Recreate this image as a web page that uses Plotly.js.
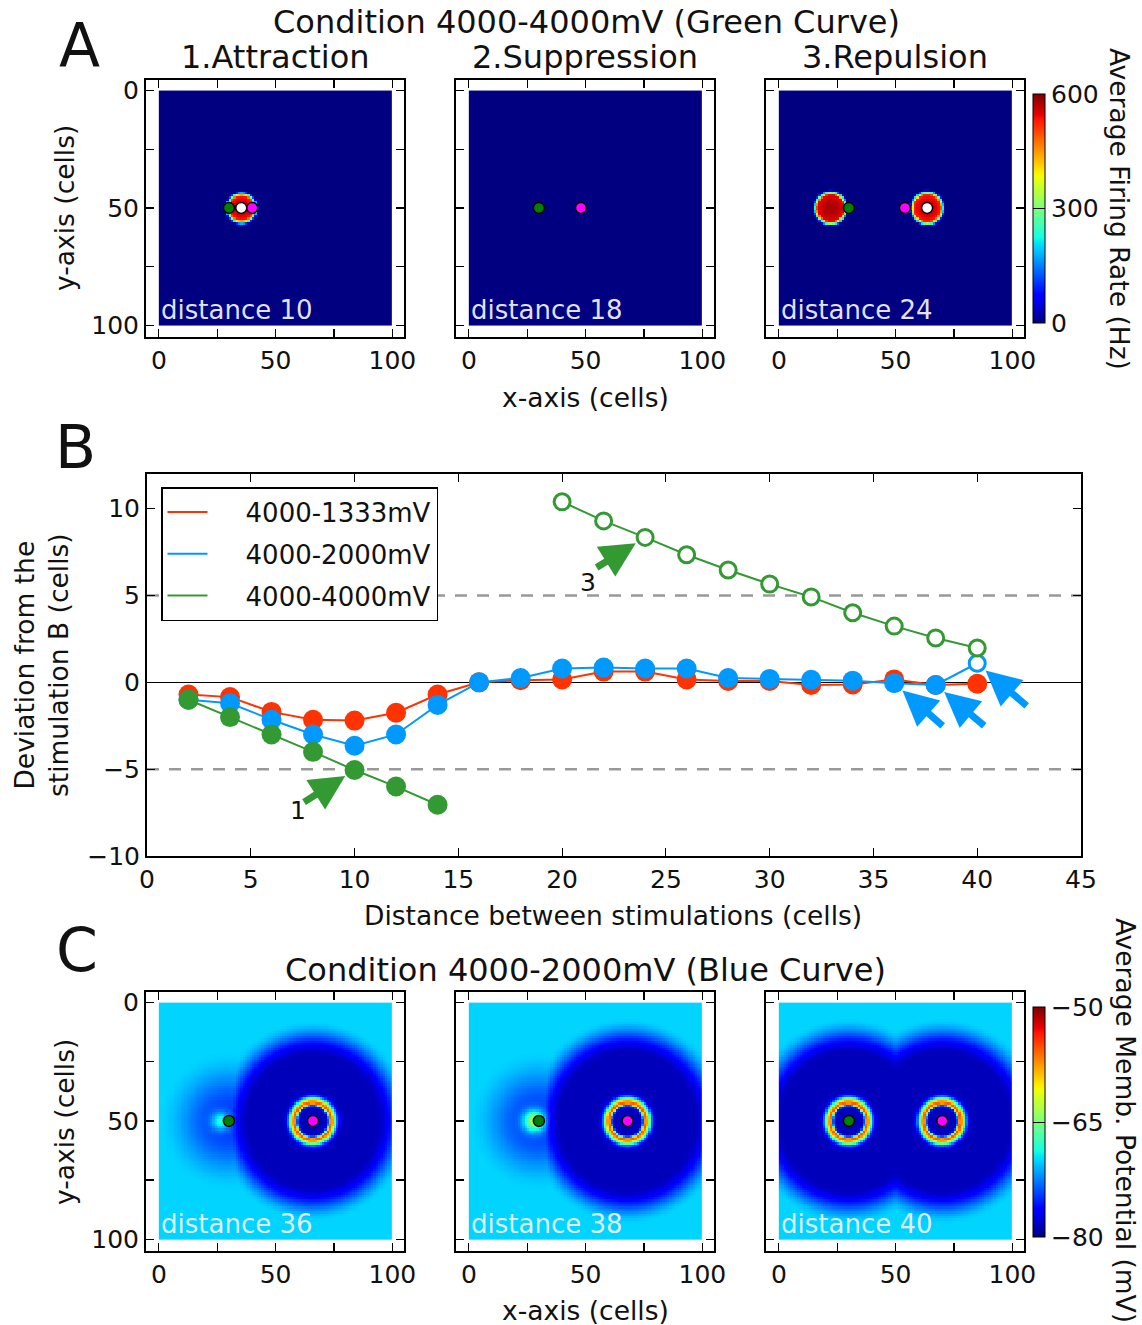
<!DOCTYPE html>
<html><head><meta charset="utf-8">
<script src="https://cdn.plot.ly/plotly-3.0.1.min.js"></script>
<style>html,body{margin:0;padding:0;background:#fff}</style>
</head><body><div id="chart" style="width:1142px;height:1325px"></div>
<script>
// ================= DATA =================
// Panel B: deviation from stimulation B vs distance between stimulations
const distances = [2,4,6,8,10,12,14,16,18,20,22,24,26,28,30,32,34,36,38,40];
const dev1333 = [-0.7,-0.85,-1.7,-2.15,-2.2,-1.75,-0.7,0,0.12,0.17,0.62,0.62,0.17,0.08,0.08,-0.15,-0.12,0.17,-0.15,-0.08];
const dev2000 = [-1.0,-1.2,-2.15,-3.0,-3.65,-3.0,-1.3,0,0.25,0.8,0.85,0.8,0.8,0.25,0.2,0.15,0.1,-0.05,-0.15,1.1];
const dev2000Hollow = [false,false,false,false,false,false,false,false,false,false,false,false,false,false,false,false,false,false,false,true];
const dist4000Filled = [2,4,6,8,10,12,14];
const dev4000Filled = [-1.0,-2.0,-3.0,-4.0,-5.05,-6.0,-7.05];
const dist4000Hollow = [20,22,24,26,28,30,32,34,36,38,40];
const dev4000Hollow = [10.4,9.3,8.35,7.35,6.47,5.66,4.92,4.01,3.24,2.56,1.98];
const thresholdLevels = [-5, 5];
const seriesNames = ['4000-1333mV','4000-2000mV','4000-4000mV'];

// Panel A: average firing rate maps (condition 4000-4000mV)
const rateTitles = ['1.Attraction','2.Suppression','3.Repulsion'];
const rateDistances = [10, 18, 24];
const stimAX = 30, stimY = 50;
const rateStimBX = [40, 48, 54];
const rateBumpPanel = [0, 2, 2];
const rateBumpX = [35.5, 22.3, 63.7];
const rateBumpY = [50, 50, 50];
const rateBumpRadius = [6.7, 7.2, 7.2];
const rateBumpPeak = [565, 580, 565];
const rateCentroidPanel = [0, 2];
const rateCentroidX = [35.3, 63.5];
const rateTicks = [0, 300, 600];

// Panel C: average membrane potential maps (condition 4000-2000mV)
const memDistances = [36, 38, 40];
const memStimBX = [66, 68, 70];
const memRest = -70;
const inhibDepthA = [4.5, 4.5, 8.5];
const inhibRadiusA = [17, 17, 36];
const inhibFadeA = [26, 26, 15];
const inhibDepthB = [8.5, 8.5, 8.5];
const inhibRadiusB = [35, 36, 36];
const inhibFadeB = [15, 15, 15];
const ringAmpA = [0, 0, 23];
const ringAmpB = [23, 23, 23];
const ringRadius = [7.8, 7.8, 7.8];
const spotX = [26.5, 28, 28];
const spotAmp = [6.5, 11.5, 0];
const spotRadius = [3.8, 4.5, 4];
const memTicks = [-50, -65, -80];

// ================= STYLE / GEOMETRY =================
const W = 1142, H = 1325;
const px = v => v / W, py = v => 1 - v / H;
const FONT = 'DejaVu Sans';
const RED = '#ff3300', BLUE = '#0099ff', GREEN = '#339933';
const NB = '\u00a0\u00a0\u00a0\u00a0';
const jet = [
  [0,'rgb(0,0,128)'],[0.11,'rgb(0,0,255)'],[0.125,'rgb(0,0,255)'],[0.34,'rgb(0,219,255)'],
  [0.35,'rgb(0,229,247)'],[0.375,'rgb(20,255,226)'],[0.64,'rgb(239,255,8)'],[0.65,'rgb(247,245,0)'],
  [0.66,'rgb(255,236,0)'],[0.89,'rgb(255,19,0)'],[0.91,'rgb(232,0,0)'],[1,'rgb(128,0,0)']];
const colX = [[146,404],[456,714],[766,1024]];
const rowA = [80,337], rowC = [992,1251];

const cells = [];
for (let i = 0; i < 100; i++) cells.push(i + 0.5);

function rateField(p) {
  const z = [];
  for (let j = 0; j < 100; j++) {
    const row = [];
    for (let i = 0; i < 100; i++) {
      let v = 0;
      for (let k = 0; k < rateBumpX.length; k++) {
        if (rateBumpPanel[k] !== p) continue;
        const R = rateBumpRadius[k];
        const d = Math.hypot(cells[i] - rateBumpX[k], cells[j] - rateBumpY[k]);
        const inner = rateBumpPeak[k] - 60 * (d / R) * (d / R);
        const edge = Math.min(1, Math.max(0, (R + 0.5 - d) / 2));
        v = Math.max(v, inner * edge);
      }
      row.push(v);
    }
    z.push(row);
  }
  return z;
}
function fade(d, R, Wd) {
  if (d <= R - Wd / 2) return 1;
  if (d >= R + Wd / 2) return 0;
  const t = (R + Wd / 2 - d) / Wd;
  return t * t * (3 - 2 * t);
}
function ring(d, rr) {
  const s = d < rr ? 1.0 : 2.3;
  return Math.exp(-Math.pow((d - rr) / s, 2));
}
function memField(p) {
  const z = [];
  for (let j = 0; j < 100; j++) {
    const row = [];
    for (let i = 0; i < 100; i++) {
      const x = cells[i], y = cells[j];
      const dA = Math.hypot(x - stimAX, y - stimY);
      const dB = Math.hypot(x - memStimBX[p], y - stimY);
      const inh = Math.max(inhibDepthA[p] * fade(dA, inhibRadiusA[p], inhibFadeA[p]),
                           inhibDepthB[p] * fade(dB, inhibRadiusB[p], inhibFadeB[p]));
      let v = memRest - inh;
      v += ringAmpA[p] * ring(dA, ringRadius[p]) + ringAmpB[p] * ring(dB, ringRadius[p]);
      const dS = Math.hypot(x - spotX[p], y - stimY);
      v += spotAmp[p] * Math.exp(-Math.pow(dS / spotRadius[p], 2));
      row.push(Math.max(-80, Math.min(-50, v)));
    }
    z.push(row);
  }
  return z;
}

// ================= LAYOUT =================
const layout = {
  width: W, height: H,
  margin: {l:0, r:0, t:0, b:0, autoexpand:false},
  paper_bgcolor: '#fff', plot_bgcolor: '#fff',
  font: {family: FONT, size: 24, color: '#111'},
  showlegend: true,
  legend: {x: px(161), y: py(487), xanchor:'left', yanchor:'top', bgcolor:'#fff',
           bordercolor:'#000', borderwidth:1.5, font:{size:26, family:FONT}, itemwidth:40, tracegroupgap:5},
  annotations: [], shapes: []
};
function mapAxes(n, xd, yd, showX, showY) {
  const ticks = {tickvals:[0,25,50,75,100], ticktext:['0','','50','','100'], ticks:'inside', ticklen:8,
    tickwidth:1.2, tickcolor:'#000', showline:true, linecolor:'#000', linewidth:2, mirror:'ticks',
    showgrid:false, zeroline:false, tickfont:{size:25}};
  layout['xaxis'+n] = Object.assign({}, ticks, {domain:[px(xd[0]),px(xd[1])], range:[-5.5,105], anchor:'y'+n, showticklabels:showX});
  layout['yaxis'+n] = Object.assign({}, ticks, {domain:[py(yd[1]),py(yd[0])], range:[105,-4.5], anchor:'x'+n, showticklabels:showY});
}
for (let p = 0; p < 3; p++) {
  mapAxes(p + 1, colX[p], rowA, true, p === 0);
  mapAxes(p + 5, colX[p], rowC, true, p === 0);
}
layout.xaxis4 = {domain:[px(147),px(1081)], range:[0,45], anchor:'y4', dtick:5, tick0:0, ticks:'inside', ticklen:8,
  tickwidth:1.2, tickcolor:'#000', showline:true, linecolor:'#000', linewidth:2, mirror:'ticks', showgrid:false, zeroline:false, tickfont:{size:25}};
layout.yaxis4 = {domain:[py(856),py(474)], range:[-10,12], anchor:'x4', tickvals:[-10,-5,0,5,10], ticktext:['\u221210','\u22125','0','5','10'],
  ticks:'inside', ticklen:8, tickwidth:1.2, tickcolor:'#000', showline:true, linecolor:'#000', linewidth:2, mirror:'ticks', showgrid:false,
  zeroline:true, zerolinecolor:'#000', zerolinewidth:1.3, tickfont:{size:25}};

function cbar(top, bottom, tickv, tickt) {
  return {x:px(1033), xanchor:'left', y:py(top), yanchor:'top', len:(bottom-top)/H, lenmode:'fraction',
    thickness:12, thicknessmode:'pixels', outlinewidth:1, outlinecolor:'#000', xpad:0, ypad:0,
    tickvals:tickv, ticktext:tickt, ticks:'inside', ticklen:12, tickcolor:'#000', tickwidth:1, tickfont:{size:25, family:FONT}};
}
layout.coloraxis = {cmin:0, cmax:600, colorscale:jet, colorbar:cbar(94, 323, rateTicks, rateTicks.map(String))};
layout.coloraxis2 = {cmin:-80, cmax:-50, colorscale:jet, colorbar:cbar(1007, 1237, memTicks, memTicks.map(v => '\u2212' + Math.abs(v)))};

// ================= TRACES =================
const traces = [];
function dots(n, xs, color) {
  return {type:'scatter', mode:'markers', x:xs, y:xs.map(() => stimY), xaxis:'x'+n, yaxis:'y'+n, showlegend:false,
    hoverinfo:'skip', marker:{size:11, opacity:1, color:color, line:{color:'#000', width:1.5}}};
}
for (let p = 0; p < 3; p++) {
  traces.push({type:'heatmap', x:cells, y:cells, z:rateField(p), coloraxis:'coloraxis', xaxis:'x'+(p+1), yaxis:'y'+(p+1), zsmooth:false, hoverinfo:'skip'});
  traces.push(dots(p+1, [stimAX], '#008000'));
  const cx = rateCentroidX.filter((v, k) => rateCentroidPanel[k] === p);
  if (cx.length) traces.push(dots(p+1, cx, '#ffffff'));
  traces.push(dots(p+1, [rateStimBX[p]], '#ff00ff'));
  traces.push({type:'heatmap', x:cells, y:cells, z:memField(p), coloraxis:'coloraxis2', xaxis:'x'+(p+5), yaxis:'y'+(p+5), zsmooth:false, hoverinfo:'skip'});
  traces.push(dots(p+5, [stimAX], '#008000'));
  traces.push(dots(p+5, [memStimBX[p]], '#ff00ff'));
}
// Panel B
traces.push({type:'scatter', mode:'lines+markers', x:distances, y:dev1333, xaxis:'x4', yaxis:'y4', showlegend:false,
  line:{color:RED, width:2}, marker:{size:20, opacity:1, color:RED, line:{width:0}}});
traces.push({type:'scatter', mode:'lines+markers', x:distances, y:dev2000, xaxis:'x4', yaxis:'y4', showlegend:false,
  line:{color:BLUE, width:2},
  marker:{size:dev2000Hollow.map(h => h ? 16 : 20), opacity:1, color:dev2000Hollow.map(h => h ? '#fff' : BLUE),
          line:{color:BLUE, width:dev2000Hollow.map(h => h ? 3 : 0)}}});
traces.push({type:'scatter', mode:'lines+markers', x:dist4000Filled, y:dev4000Filled, xaxis:'x4', yaxis:'y4', showlegend:false,
  line:{color:GREEN, width:2}, marker:{size:20, opacity:1, color:GREEN, line:{width:0}}});
traces.push({type:'scatter', mode:'lines+markers', x:dist4000Hollow, y:dev4000Hollow, xaxis:'x4', yaxis:'y4', showlegend:false,
  line:{color:GREEN, width:2}, marker:{size:16, opacity:1, color:'#fff', line:{color:GREEN, width:3}}});
[RED, BLUE, GREEN].forEach((c, k) => traces.push({type:'scatter', mode:'lines', x:[null], y:[null], xaxis:'x4', yaxis:'y4',
  name:NB + seriesNames[k], legendgroup:'g'+k, line:{color:c, width:2}}));

thresholdLevels.forEach(lv => layout.shapes.push({type:'line', xref:'x4', yref:'y4', x0:0, x1:45, y0:lv, y1:lv, layer:'below',
  line:{color:'#999', width:2.5, dash:'12px,10px'}}));

// ================= ANNOTATIONS =================
const A = layout.annotations;
function txt(t, x, y, size, extra) {
  A.push(Object.assign({text:t, xref:'paper', yref:'paper', x:px(x), y:py(y), xanchor:'center', yanchor:'middle',
    showarrow:false, font:{size:size, family:FONT, color:'#111'}}, extra || {}));
}
txt('A', 79, 45, 60); txt('B', 75, 447, 60); txt('C', 77, 950, 60);
txt('Condition 4000-4000mV (Green Curve)', 587, 22, 32);
rateTitles.forEach((t, p) => txt(t, (colX[p][0] + colX[p][1]) / 2, 57, 32));
txt('x-axis (cells)', 585, 397, 26.5);
txt('y-axis (cells)', 64, 208, 26.5, {textangle:-90});
txt('Average Firing Rate (Hz)', 1119, 209, 26.5, {textangle:90});
txt('Distance between stimulations (cells)', 613, 915, 26.5);
txt('Deviation from the<br>stimulation B (cells)', 41, 665, 26.5, {textangle:-90});
txt('Condition 4000-2000mV (Blue Curve)', 585, 970, 32);
txt('x-axis (cells)', 585, 1310, 26.5);
txt('y-axis (cells)', 64, 1122, 26.5, {textangle:-90});
txt('Average Memb. Potential (mV)', 1126, 1120, 26.5, {textangle:90});
txt('1', 298, 810, 25); txt('3', 588, 582, 25);

function distLabel(n, d) {
  A.push({text:'distance ' + d, xref:'x'+n, yref:'y'+n, x:0, y:100, xanchor:'left', yanchor:'bottom', showarrow:false,
    font:{size:26, family:FONT, color:'rgba(240,240,255,0.95)'}, yshift:-2});
}
rateDistances.forEach((d, p) => distLabel(p + 1, d));
memDistances.forEach((d, p) => distLabel(p + 5, d));

function arrow(x, y, ax, ay, color) {
  A.push({text:'', xref:'x4', yref:'y4', x:x, y:y, ax:ax, ay:ay, showarrow:true, arrowhead:2, arrowsize:1,
    arrowwidth:7, arrowcolor:color, standoff:11});
}
arrow(dist4000Filled[4], dev4000Filled[4], -52, 33, GREEN);
arrow(dist4000Hollow[2], dev4000Hollow[2], -50, 31, GREEN);
arrow(distances[17], dev2000[17], 50, 44, BLUE);
arrow(distances[18], dev2000[18], 50, 42, BLUE);
arrow(distances[19], dev2000[19], 51, 44, BLUE);

Plotly.newPlot('chart', traces, layout, {staticPlot:true});
</script></body></html>
